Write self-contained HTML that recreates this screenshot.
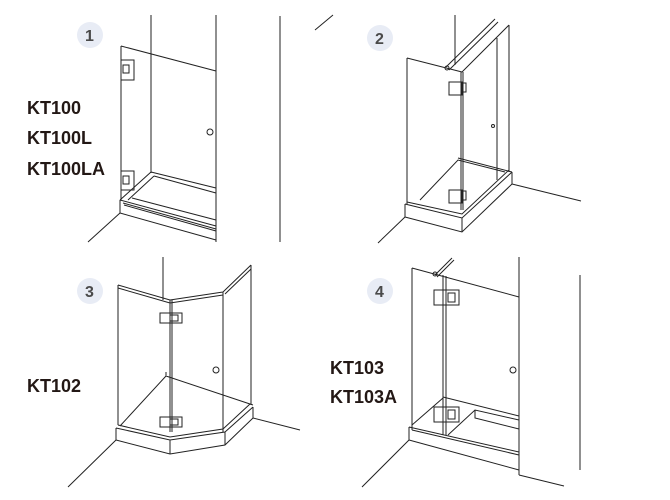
<!DOCTYPE html>
<html><head><meta charset="utf-8"><style>
html,body{margin:0;padding:0;background:#fff;width:670px;height:500px;overflow:hidden}
svg{display:block}
.l{stroke:#222;stroke-width:1;fill:none}
.t{font-family:"Liberation Sans",sans-serif;font-weight:bold;font-size:18px;fill:#231815}
.n{font-family:"Liberation Sans",sans-serif;font-weight:bold;font-size:16px;fill:#4a4a4a}
</style></head><body>
<svg width="670" height="500" viewBox="0 0 670 500">
<g fill="#e8ecf5"><circle cx="90" cy="35" r="13"/><circle cx="380" cy="38" r="13"/><circle cx="90" cy="291" r="13"/><circle cx="380" cy="291" r="13"/></g>
<text class="n" x="85" y="41">1</text><text class="n" x="375" y="44">2</text><text class="n" x="85" y="297">3</text><text class="n" x="375" y="297">4</text>
<text class="t" x="27" y="114">KT100</text><text class="t" x="27" y="144">KT100L</text><text class="t" x="27" y="175">KT100LA</text>
<text class="t" x="27" y="392">KT102</text>
<text class="t" x="330" y="374">KT103</text><text class="t" x="330" y="403">KT103A</text>
<g class="l">
<path d="M151 15V173M216 15V242M280 16V242"/>
<path d="M121 46V200M121 46L216 71"/>
<rect x="121" y="60" width="13" height="20"/><rect x="123" y="65" width="6" height="8"/>
<rect x="121" y="171" width="13" height="19"/><rect x="123" y="176" width="6" height="8"/>
<circle cx="210" cy="132" r="3"/>
<path d="M120 200L216 226M120 213L216 240M120 200V213M123 203L216 229M124 205L216 231M120 200L151 172M128 200L154 176M154 176L216 193M151 172L216 188M132 198L216 220"/>
<path d="M120 213L88 242"/>
<path d="M455 15V65M315 30L333 15"/>
<path d="M446 67L495 19M449 70L498 22"/><circle cx="447" cy="68" r="2"/>
<path d="M407 58V204M407 58L462 72M461 72V210M463 72V210"/>
<path d="M462 72L509 25M509 25V172M497 38V180"/>
<rect x="449" y="82" width="13" height="13"/><rect x="462" y="83" width="4" height="9"/>
<rect x="449" y="190" width="13" height="13"/><rect x="462" y="191" width="4" height="9"/>
<circle cx="493" cy="126" r="1.5"/>
<path d="M405 204L462 218L512 172M405 217L462 232L512 184M405 204V217M462 218V232M512 172V184M407 202L462 214L509 170M420 200L458 160L505 172M458 158L512 172"/>
<path d="M405 217L378 243M512 184L581 201"/>
<path d="M163 257V300"/>
<path d="M118 285V425M118 285L170 300M118 288L170 303M170 300V432M172 300V432"/>
<path d="M170 300L223 292M170 303L223 295M223 292V432M223 292L251 265M225 294L251 269M251 265V405"/>
<rect x="160" y="313" width="22" height="10"/><rect x="170" y="315" width="8" height="6"/>
<rect x="160" y="417" width="22" height="10"/><rect x="170" y="419" width="8" height="6"/>
<circle cx="216" cy="370" r="3"/>
<path d="M116 428L170 440L225 432L253 407M116 440L170 454L225 445L253 418M116 428V440M170 440V454M225 432V445M253 407V418M120 426L166 376L253 405M166 376V372M118 425L170 437L223 429L250 404"/>
<path d="M116 440L68 487M253 418L300 430"/>
<path d="M519 257V475M580 275V470"/>
<path d="M435 275L452 258M437 277L454 260"/><circle cx="435" cy="274" r="2"/>
<path d="M412 268V430M412 268L519 297M443 275V435M446 276V435"/>
<rect x="434" y="290" width="25" height="15"/><rect x="448" y="293" width="7" height="9"/>
<rect x="434" y="407" width="25" height="15"/><rect x="448" y="410" width="7" height="9"/>
<circle cx="513" cy="370" r="3"/>
<path d="M409 427L519 452M409 440L519 470M409 427V440M412 430L519 455M443 397L519 416M412 425L443 398M448 435L475 410L519 420M475 410V418L519 429"/>
<path d="M409 440L362 487M519 475L564 486"/>
</g>
</svg>
</body></html>
